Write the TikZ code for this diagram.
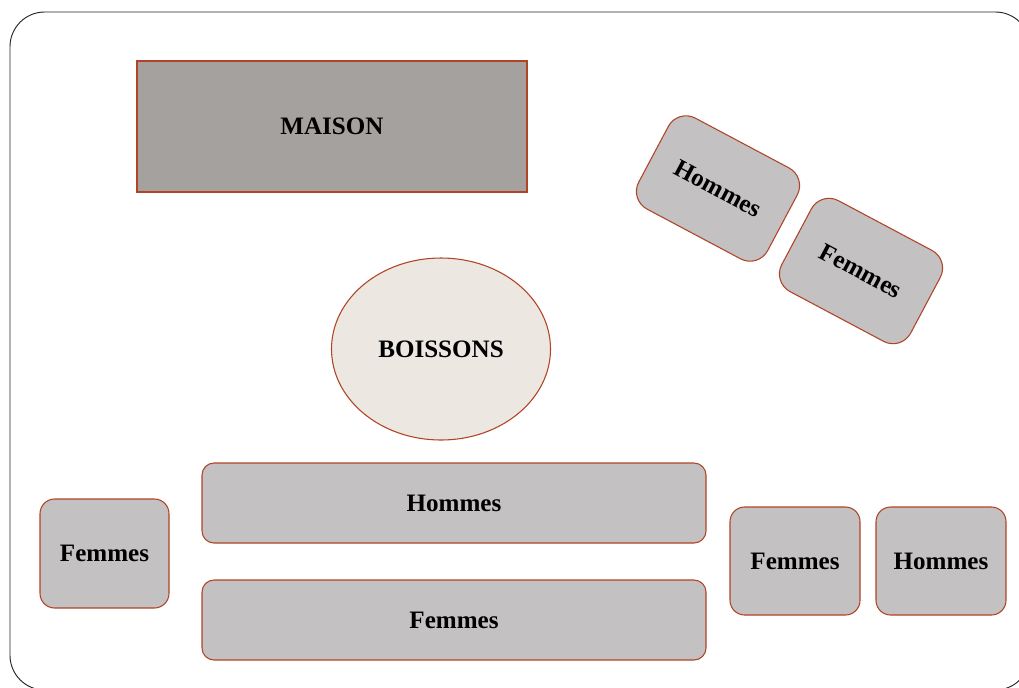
\documentclass[tikz,border=0pt]{standalone}
\usepackage{fontspec}
\setmainfont{Liberation Serif}
\usetikzlibrary{shapes, positioning}

\definecolor{brick}{RGB}{176,68,36}
\definecolor{seatgray}{RGB}{195,193,194}
\definecolor{housegray}{RGB}{165,161,159}
\definecolor{drinkbeige}{RGB}{237,231,225}

\tikzset{
  seat/.style={draw=brick, fill=seatgray, line width=0.8pt, rounded corners=11pt,
    font=\fontsize{18.8}{22}\selectfont\bfseries, inner sep=0pt},
  sz/.style 2 args={minimum width=#1*0.75pt, minimum height=#2*0.75pt}
}

\begin{document}
\begin{tikzpicture}[x=0.75pt, y=-0.75pt]

\useasboundingbox (0,0) rectangle (1019,687);
\clip (0,0) rectangle (1019,687);

% outer frame
\draw[line width=0.7pt, black!85, rounded corners=26pt] (10,12) rectangle (1030,690);

% house and drinks
\node[draw=brick, fill=housegray, line width=0.8pt, sz={390}{131},
  font=\fontsize{18.8}{22}\selectfont\bfseries] (maison) at (332,126.5) {MAISON};
\node[ellipse, draw=brick, fill=drinkbeige, line width=0.8pt, sz={219}{182},
  font=\fontsize{18.8}{22}\selectfont\bfseries] (boissons) at (441,349) {BOISSONS};

% tilted seats
\node[seat, sz={146}{103}, rounded corners=15pt, rotate=-28] (hommesA) at (718,188.5) {Hommes};
\node[seat, sz={146}{103}, rounded corners=15pt, rotate=-28] (femmesA) at (861,271) {Femmes};

% long benches
\node[seat, sz={504}{80}, rounded corners=9pt] (hommesB) at (454,503) {Hommes};
\node[seat, sz={504}{80}, rounded corners=9pt] (femmesB) at (454,620) {Femmes};

% small seats
\node[seat, sz={129}{109}] (femmesC) at (104.5,553.5) {Femmes};
\node[seat, sz={130}{108}] (femmesD) at (795,561) {Femmes};
\node[seat, sz={130}{108}] (hommesC) at (941,561) {Hommes};

\end{tikzpicture}
\end{document}
